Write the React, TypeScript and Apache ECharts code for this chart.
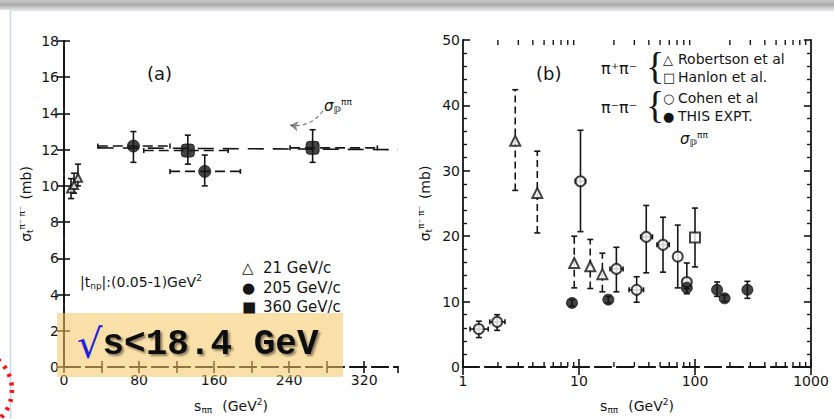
import React, { useEffect, useRef } from 'react';
import * as echarts from 'echarts';

// ---------- Panel (a): linear s axis ----------
const aYTicks = [0, 2, 4, 6, 8, 10, 12, 14, 16, 18];
const a21S = [7.5, 10.7, 14.9];
const a21Y = [9.85, 10.05, 10.45];
const a21Lo = [9.3, 9.6, 10.0];
const a21Hi = [10.4, 10.7, 11.2];

const a205S = [74, 150];
const a205Y = [12.2, 10.8];
const a205Lo = [11.3, 10.0];
const a205Hi = [13.0, 11.7];
const a205XLo = [36, 113];
const a205XHi = [113, 188];

const a360S = [132, 265];
const a360Y = [11.95, 12.1];
const a360Lo = [11.2, 11.3];
const a360Hi = [12.8, 13.1];
const a360XLo = [85, 241];
const a360XHi = [175, 334];

const aPomS = [36, 356];
const aPomY = [12.1, 12.0];
const aArrowFrom = [276, 14.15];
const aArrowTo = [241, 13.35];

// ---------- Panel (b): log s axis ----------
const bXTicks = [1, 10, 100, 1000];
const bCohenS = [1.37, 1.97, 10.3, 21, 31.4, 38, 53, 71, 85];
const bCohenY = [5.8, 6.9, 28.4, 15.0, 11.8, 19.9, 18.7, 16.9, 13.0];
const bCohenLo = [4.5, 5.6, 20.7, 11.5, 9.9, 14.4, 14.5, 12.1, 12.0];
const bCohenHi = [7.0, 8.0, 36.2, 18.3, 13.8, 24.7, 22.9, 21.7, 15.9];
const bCohenXLo = [1.15, 1.7, 9.3, 18.5, 27, 34, 47, 71, 79];
const bCohenXHi = [1.65, 2.3, 11.4, 24, 36, 43, 60, 71, 91];

const bRobS = [2.82, 4.37, 9.1, 12.5, 15.9];
const bRobY = [34.6, 26.6, 15.9, 15.4, 14.2];
const bRobLo = [27.0, 20.5, 12.1, 12.0, 11.5];
const bRobHi = [42.4, 33.0, 20.0, 19.5, 17.4];

const bHanS = [100];
const bHanY = [19.8];
const bHanLo = [15.3];
const bHanHi = [24.3];

const bExpS = [8.7, 17.9, 85, 155, 180, 283];
const bExpY = [9.8, 10.3, 12.1, 11.8, 10.5, 11.8];
const bExpLo = [9.3, 9.8, 11.2, 10.8, 10.0, 10.5];
const bExpHi = [10.3, 10.8, 13.0, 13.0, 11.0, 13.1];

const bLogMinor = [2, 3, 4, 5, 6, 7, 8, 9, 20, 30, 40, 50, 60, 70, 80, 90, 200, 300, 400, 500, 600, 700, 800, 900];

const INK = '#151515';
const FONT = 'DejaVu Sans';

const pts = (s: number[], y: number[]) => s.map((v, i) => [v, y[i]]);
const errs = (s: number[], y: number[], lo: number[], hi: number[], xl?: number[], xh?: number[]) =>
  s.map((v, i) => [v, y[i], lo[i], hi[i], xl ? xl[i] : v, xh ? xh[i] : v]);

const errRender = (vDash: number[] | null, hDash: number[] | null) => (params: any, api: any) => {
  const x = api.value(0), y = api.value(1), lo = api.value(2), hi = api.value(3), xl = api.value(4), xh = api.value(5);
  const pLo = api.coord([x, lo]);
  const pHi = api.coord([x, hi]);
  const st = { stroke: INK, lineWidth: 1.6, lineDash: vDash || undefined, fill: 'none' };
  const st2 = { stroke: INK, lineWidth: 1.6, fill: 'none' };
  const children: any[] = [
    { type: 'line', shape: { x1: pLo[0], y1: pLo[1], x2: pHi[0], y2: pHi[1] }, style: st },
    { type: 'line', shape: { x1: pLo[0] - 3, y1: pLo[1], x2: pLo[0] + 3, y2: pLo[1] }, style: st2 },
    { type: 'line', shape: { x1: pHi[0] - 3, y1: pHi[1], x2: pHi[0] + 3, y2: pHi[1] }, style: st2 },
  ];
  if (xh > xl) {
    const a = api.coord([xl, y]);
    const b = api.coord([xh, y]);
    children.push({ type: 'line', shape: { x1: a[0], y1: a[1], x2: b[0], y2: b[1] }, style: { stroke: INK, lineWidth: 1.6, lineDash: hDash || undefined } });
    children.push({ type: 'line', shape: { x1: a[0], y1: a[1] - 2.5, x2: a[0], y2: a[1] + 2.5 }, style: st2 });
    children.push({ type: 'line', shape: { x1: b[0], y1: b[1] - 2.5, x2: b[0], y2: b[1] + 2.5 }, style: st2 });
  }
  return { type: 'group', children };
};

const openStyle = { color: '#fff', borderColor: INK, borderWidth: 2 };
const fillStyle = { color: INK, borderColor: INK, borderWidth: 1 };

const axisLbl = { color: INK, fontFamily: FONT, fontSize: 14 };
const lineSolid = { show: true, lineStyle: { color: INK, width: 1.8 } };
const lineDashed = { show: true, lineStyle: { color: INK, width: 1.8, type: [16, 6] as any } };

const nameRich = {
  s: { fontSize: 14, fontFamily: FONT, color: INK },
  b: { fontSize: 9, fontFamily: FONT, color: INK, padding: [8, 0, 0, 0] },
  a: { fontSize: 9, fontFamily: FONT, color: INK, padding: [0, 0, 8, 0] },
};

const sigmaRich = {
  s: { fontSize: 15, fontFamily: FONT, fontStyle: 'italic', fill: INK },
  b: { fontSize: 10, fontFamily: FONT, fontWeight: 'bold', fill: INK, padding: [9, 0, 0, 0] },
  a: { fontSize: 9, fontFamily: FONT, fill: INK, padding: [0, 0, 8, 0] },
};

const txt = (x: number, y: number, text: string, size: number, family = FONT) => ({
  type: 'text', x, y, z: 60,
  style: { text, font: `${size}px "${family}"`, fill: INK, verticalAlign: 'middle' },
});

const option: any = {
  animation: false,
  backgroundColor: '#ffffff',
  grid: [
    { left: 64, top: 41, width: 334, height: 333 },
    { left: 463, top: 40, width: 348, height: 334 },
  ],
  xAxis: [
    {
      gridIndex: 0, type: 'value', min: 0, max: 356, interval: 40, position: 'bottom',
      axisLine: lineDashed,
      axisTick: { show: true, inside: true, length: 6, lineStyle: { color: INK, width: 1.6 } },
      axisLabel: { ...axisLbl, margin: 6, showMaxLabel: false, formatter: (v: number) => (v % 80 === 0 ? String(v) : '') },
      splitLine: { show: false },
      name: '{s|s}{b|ππ}   {s|(GeV}{a|2}{s|)}', nameLocation: 'middle', nameGap: 30,
      nameTextStyle: { rich: nameRich },
    },
    {
      gridIndex: 0, type: 'value', min: 0, max: 356, interval: 40, position: 'top',
      axisLine: lineDashed,
      axisTick: { show: true, inside: true, length: 6, lineStyle: { color: INK, width: 1.6 } },
      axisLabel: { show: false }, splitLine: { show: false },
    },
    {
      gridIndex: 1, type: 'log', logBase: 10, min: 1, max: 1000, position: 'bottom',
      axisLine: lineDashed,
      axisTick: { show: true, inside: true, length: 8, lineStyle: { color: INK, width: 1.6 } },
      axisLabel: { ...axisLbl, margin: 7, formatter: (v: number) => String(bXTicks.find((t) => Math.abs(t - v) < 1e-6 * t) ?? Math.round(v)) },
      splitLine: { show: false }, minorTick: { show: false },
      name: '{s|s}{b|ππ}   {s|(GeV}{a|2}{s|)}', nameLocation: 'middle', nameGap: 30,
      nameTextStyle: { rich: nameRich },
    },
    {
      gridIndex: 1, type: 'log', logBase: 10, min: 1, max: 1000, position: 'top',
      axisLine: lineDashed,
      axisTick: { show: true, inside: true, length: 8, lineStyle: { color: INK, width: 1.6 } },
      axisLabel: { show: false }, splitLine: { show: false },
    },
  ],
  yAxis: [
    {
      gridIndex: 0, type: 'value', min: 0, max: 18, interval: 2, position: 'left',
      axisLine: lineSolid,
      axisTick: { show: true, inside: true, length: 6, lineStyle: { color: INK, width: 1.6 } },
      axisLabel: { ...axisLbl, margin: 5, formatter: (v: number) => (aYTicks.indexOf(v) >= 0 ? String(v) : '') },
      splitLine: { show: false },
      name: '{s|σ}{b|t}{a|π⁻ π⁻}  {s|(mb)}', nameLocation: 'middle', nameGap: 30, nameRotate: 90,
      nameTextStyle: { rich: nameRich },
    },
    {
      gridIndex: 0, type: 'value', min: 0, max: 18, interval: 2, position: 'right',
      axisLine: { show: true, lineStyle: { color: INK, width: 1.8, type: [60, 5] as any } },
      axisTick: { show: true, inside: true, length: 7, lineStyle: { color: INK, width: 1.6 } },
      axisLabel: { show: false }, splitLine: { show: false },
    },
    {
      gridIndex: 1, type: 'value', min: 0, max: 50, interval: 10, position: 'left',
      axisLine: lineSolid,
      axisTick: { show: true, inside: true, length: 7, lineStyle: { color: INK, width: 1.6 } },
      minorTick: { show: true, splitNumber: 5, length: 4, lineStyle: { color: INK, width: 1.4 } },
      axisLabel: { ...axisLbl, margin: 3 },
      splitLine: { show: false },
      name: '{s|σ}{b|t}{a|π⁻ π⁻}  {s|(mb)}', nameLocation: 'middle', nameGap: 30, nameRotate: 90,
      nameTextStyle: { rich: nameRich },
    },
    {
      gridIndex: 1, type: 'value', min: 0, max: 50, interval: 10, position: 'right',
      axisLine: lineSolid,
      axisTick: { show: true, inside: true, length: 7, lineStyle: { color: INK, width: 1.6 } },
      minorTick: { show: true, splitNumber: 5, length: 4, lineStyle: { color: INK, width: 1.4 } },
      axisLabel: { show: false }, splitLine: { show: false },
    },
  ],
  series: [
    // ----- panel a -----
    {
      type: 'line', xAxisIndex: 0, yAxisIndex: 0, data: pts(aPomS, aPomY), symbol: 'none',
      lineStyle: { color: INK, width: 1.6, type: [16, 9] }, z: 1, silent: true,
    },
    {
      type: 'lines', coordinateSystem: 'cartesian2d', xAxisIndex: 0, yAxisIndex: 0,
      data: [{ coords: [aArrowFrom, aArrowTo] }], symbol: ['none', 'arrow'], symbolSize: 8,
      lineStyle: { color: INK, width: 1.3, type: [4, 3], curveness: 0.3 }, z: 3,
    },
    { type: 'custom', xAxisIndex: 0, yAxisIndex: 0, renderItem: errRender(null, null), data: errs(a21S, a21Y, a21Lo, a21Hi), z: 2 },
    { type: 'custom', xAxisIndex: 0, yAxisIndex: 0, renderItem: errRender(null, [10, 5]), data: errs(a205S, a205Y, a205Lo, a205Hi, a205XLo, a205XHi), z: 2 },
    { type: 'custom', xAxisIndex: 0, yAxisIndex: 0, renderItem: errRender(null, [10, 5]), data: errs(a360S, a360Y, a360Lo, a360Hi, a360XLo, a360XHi), z: 2 },
    { type: 'scatter', xAxisIndex: 0, yAxisIndex: 0, data: pts(a21S, a21Y), symbol: 'triangle', symbolSize: 8, itemStyle: openStyle, z: 4 },
    { type: 'scatter', xAxisIndex: 0, yAxisIndex: 0, data: pts(a205S, a205Y), symbol: 'circle', symbolSize: 12, itemStyle: fillStyle, z: 4 },
    { type: 'scatter', xAxisIndex: 0, yAxisIndex: 0, data: pts(a360S, a360Y), symbol: 'roundRect', symbolSize: 13, itemStyle: fillStyle, z: 4 },
    // ----- panel b -----
    {
      type: 'custom', xAxisIndex: 2, yAxisIndex: 2, data: bLogMinor.map((v) => [v]), z: 2, clip: false,
      renderItem: (params: any, api: any) => {
        const v = api.value(0);
        const b = api.coord([v, 0]);
        const t = api.coord([v, 50]);
        const st = { stroke: INK, lineWidth: 1.4 };
        return {
          type: 'group', children: [
            { type: 'line', shape: { x1: b[0], y1: b[1], x2: b[0], y2: b[1] - 5 }, style: st },
            { type: 'line', shape: { x1: t[0], y1: t[1], x2: t[0], y2: t[1] + 5 }, style: st },
          ],
        };
      },
    },
    { type: 'custom', xAxisIndex: 2, yAxisIndex: 2, renderItem: errRender(null, null), data: errs(bCohenS, bCohenY, bCohenLo, bCohenHi, bCohenXLo, bCohenXHi), z: 2 },
    { type: 'custom', xAxisIndex: 2, yAxisIndex: 2, renderItem: errRender([7, 4], null), data: errs(bRobS, bRobY, bRobLo, bRobHi), z: 2 },
    { type: 'custom', xAxisIndex: 2, yAxisIndex: 2, renderItem: errRender(null, null), data: errs(bHanS, bHanY, bHanLo, bHanHi), z: 2 },
    { type: 'custom', xAxisIndex: 2, yAxisIndex: 2, renderItem: errRender(null, null), data: errs(bExpS, bExpY, bExpLo, bExpHi), z: 2 },
    { type: 'scatter', xAxisIndex: 2, yAxisIndex: 2, data: pts(bCohenS, bCohenY), symbol: 'circle', symbolSize: 10, itemStyle: openStyle, z: 4 },
    { type: 'scatter', xAxisIndex: 2, yAxisIndex: 2, data: pts(bRobS, bRobY), symbol: 'triangle', symbolSize: 10, itemStyle: openStyle, z: 4 },
    { type: 'scatter', xAxisIndex: 2, yAxisIndex: 2, data: pts(bHanS, bHanY), symbol: 'rect', symbolSize: 10, itemStyle: openStyle, z: 4 },
    { type: 'scatter', xAxisIndex: 2, yAxisIndex: 2, data: pts(bExpS, bExpY), symbol: 'circle', symbolSize: 11, itemStyle: fillStyle, z: 5 },
  ],
  graphic: [
    // frame of the slide
    {
      type: 'rect', shape: { x: 0, y: 0, width: 834, height: 10 }, z: 50,
      style: { fill: new echarts.graphic.LinearGradient(0, 0, 0, 1, [
        { offset: 0, color: '#c8c8c8' }, { offset: 0.5, color: '#a9a9a9' }, { offset: 1, color: '#e4e4e4' },
      ]) },
    },
    { type: 'line', shape: { x1: 10.5, y1: 10, x2: 10.5, y2: 419 }, style: { stroke: '#c9d7ea', lineWidth: 1.5 }, z: 50 },
    { type: 'line', shape: { x1: 10, y1: 10.5, x2: 834, y2: 10.5 }, style: { stroke: '#d5e0ee', lineWidth: 1 }, z: 50 },
    // panel a annotations
    txt(147, 73, '(a)', 18),
    { type: 'text', x: 324, y: 106, z: 60, style: { text: '{s|σ}{b|ℙ}{a|ππ}', verticalAlign: 'middle', rich: sigmaRich } },
    txt(242, 268, '△', 15), txt(263, 268, '21 GeV/c', 15),
    txt(242, 288, '●', 15), txt(263, 288, '205 GeV/c', 15),
    txt(242, 307, '■', 15), txt(263, 307, '360 GeV/c', 15),
    {
      type: 'text', x: 80, y: 282, z: 60,
      style: {
        text: '{s||t}{b|np}{s||:(0.05-1)GeV}{a|2}', verticalAlign: 'middle',
        rich: {
          s: { fontSize: 14, fontFamily: FONT, fill: INK },
          b: { fontSize: 9, fontFamily: FONT, fill: INK, padding: [8, 0, 0, 0] },
          a: { fontSize: 9, fontFamily: FONT, fill: INK, padding: [0, 0, 8, 0] },
        },
      },
    },
    // panel b annotations
    txt(536, 73, '(b)', 18),
    txt(601, 68, 'π⁺π⁻', 16),
    txt(646, 66, '{', 38, 'Liberation Serif'),
    txt(663, 59, '△', 13), txt(678, 59, 'Robertson et al', 14),
    txt(663, 77, '□', 13), txt(678, 77, 'Hanlon et al.', 14),
    txt(601, 107, 'π⁻π⁻', 16),
    txt(646, 105, '{', 38, 'Liberation Serif'),
    txt(663, 98, '○', 13), txt(678, 98, 'Cohen et al', 14),
    txt(663, 116, '●', 13), txt(678, 116, 'THIS EXPT.', 14),
    { type: 'text', x: 680, y: 139, z: 60, style: { text: '{s|σ}{b|ℙ}{a|ππ}', verticalAlign: 'middle', rich: sigmaRich } },
    // highlighted box
    { type: 'rect', shape: { x: 57, y: 313, width: 286, height: 64 }, style: { fill: 'rgba(244, 198, 96, 0.55)' }, z: 70 },
    {
      type: 'text', x: 77, y: 344, z: 71,
      style: {
        text: '{r|√}{t|s<18.4 GeV}', verticalAlign: 'middle',
        rich: {
          r: { fontSize: 40, fontFamily: 'DejaVu Serif', fill: '#2020e0' },
          t: {
            fontSize: 36, fontFamily: 'Liberation Mono', fontWeight: 'bold', fill: '#111',
            textShadowColor: 'rgba(0,0,0,0.45)', textShadowOffsetX: 2, textShadowOffsetY: 2, textShadowBlur: 2,
          },
        },
      },
    },
    // red dotted circle
    {
      type: 'circle', shape: { cx: -28, cy: 390, r: 40 }, z: 80,
      style: { fill: 'none', stroke: '#ff1010', lineWidth: 4.5, lineDash: [3, 6] },
    },
  ],
};

export default function App() {
  const ref = useRef<HTMLDivElement>(null);
  useEffect(() => {
    const chart = echarts.init(ref.current as HTMLDivElement, null, { renderer: 'svg' });
    chart.setOption(option);
    return () => chart.dispose();
  }, []);
  return (
    <div
      ref={ref}
      style={{ position: 'absolute', left: 0, top: 0, width: 834, height: 419, background: '#fff' }}
    />
  );
}
